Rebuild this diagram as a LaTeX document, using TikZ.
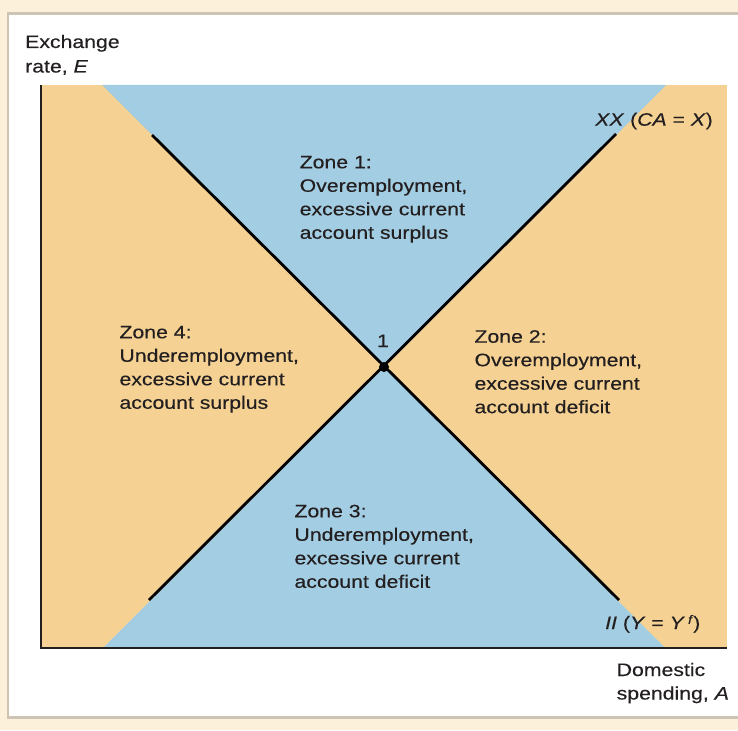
\documentclass[tikz,border=0pt]{standalone}
\usepackage{fontspec}
\newfontfamily\lf[FakeStretch=1.18,FakeBold=0.35]{Liberation Sans}
\definecolor{cream}{HTML}{FDF0DA}
\definecolor{bordergray}{HTML}{CEC4B4}
\definecolor{zoneorange}{HTML}{F5D293}
\definecolor{zoneblue}{HTML}{A3CDE2}
\definecolor{ink}{HTML}{231F20}
\tikzset{
  lbl/.style={font=\lf\fontsize{18}{23.5}\selectfont, text=ink, inner sep=0pt, anchor=base west},
  curve/.style={draw=black, line width=2.8pt},
  axis/.style={draw=ink, line width=2.8pt}
}
\begin{document}
\begin{tikzpicture}[x=1pt,y=-1pt]
\useasboundingbox (0,0) rectangle (738,730);
\clip (0,0) rectangle (738,730);
\fill[cream] (0,0) rectangle (738,730);
\draw[bordergray, line width=2.6pt, fill=white] (8,13.8) rectangle (760,717.5);
% zones
\coordinate (O) at (41,648);
\coordinate (Et) at (41,85);
\coordinate (Ae) at (727,648);
\coordinate (C) at (384,367);
\fill[zoneorange] (41,85) rectangle (727,648);
\fill[zoneblue] (102,85) -- (666,85) -- (C) -- cycle;
\fill[zoneblue] (103,648) -- (665,648) -- (C) -- cycle;
% axes
\draw[axis] (Et) -- (O) -- (Ae);
% schedules
\coordinate (II1) at (152,135);
\coordinate (II2) at (619,600);
\coordinate (XX1) at (149,600);
\coordinate (XX2) at (616,134);
\draw[curve] (II1) -- (II2);
\draw[curve] (XX1) -- (XX2);
\fill[black] (C) circle (5);
\node[lbl, anchor=base] (one) at (383,347) {1};
% axis labels
\node[lbl] (ey1) at (25,48) {Exchange};
\node[lbl] (ey2) at (25,72.5) {rate, \textit{E}};
\node[lbl] (ax1) at (616.5,676) {Domestic};
\node[lbl] (ax2) at (616.5,699.5) {spending, \textit{A}};
\node[lbl] (xxl) at (595,125.7) {\textit{XX} (\textit{CA} = \textit{X})};
\node[lbl] (iil) at (605,629) {\textit{II} (\textit{Y} = \textit{Y}\,\raisebox{0.55ex}{\fontsize{12}{12}\selectfont\textit{f}})};
% zone 1
\node[lbl] (z1a) at (299.5,168.3) {Zone 1:};
\node[lbl] (z1b) at (299.5,191.8) {Overemployment,};
\node[lbl] (z1c) at (299.5,215.3) {excessive current};
\node[lbl] (z1d) at (299.5,238.8) {account surplus};
% zone 4
\node[lbl] (z4a) at (119.3,338.3) {Zone 4:};
\node[lbl] (z4b) at (119.3,361.8) {Underemployment,};
\node[lbl] (z4c) at (119.3,385.3) {excessive current};
\node[lbl] (z4d) at (119.3,408.8) {account surplus};
% zone 2
\node[lbl] (z2a) at (474.3,342.7) {Zone 2:};
\node[lbl] (z2b) at (474.3,366.2) {Overemployment,};
\node[lbl] (z2c) at (474.3,389.7) {excessive current};
\node[lbl] (z2d) at (474.3,413.2) {account deficit};
% zone 3
\node[lbl] (z3a) at (294.3,517.3) {Zone 3:};
\node[lbl] (z3b) at (294.3,540.8) {Underemployment,};
\node[lbl] (z3c) at (294.3,564.3) {excessive current};
\node[lbl] (z3d) at (294.3,587.8) {account deficit};
\end{tikzpicture}
\end{document}
